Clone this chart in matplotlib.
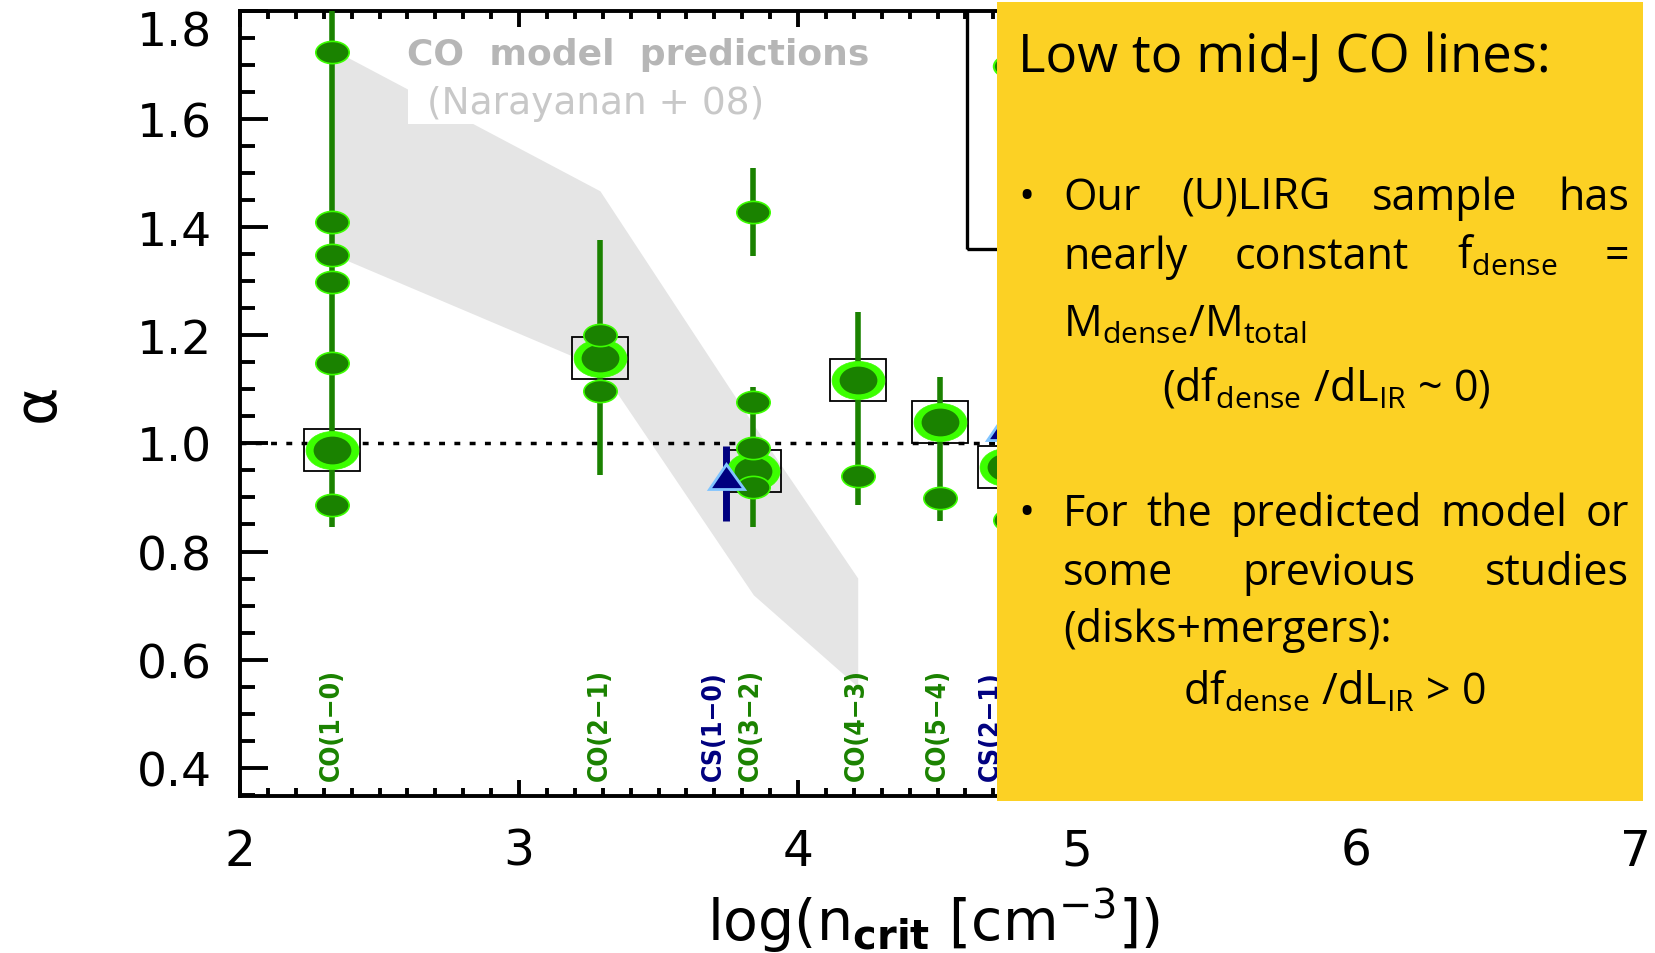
import matplotlib as mpl
import matplotlib.pyplot as plt
import numpy as np
from matplotlib.markers import MarkerStyle
from matplotlib.patches import Rectangle
from matplotlib.transforms import Affine2D
from matplotlib.ticker import MultipleLocator, FormatStrFormatter

mpl.rcParams['mathtext.fontset'] = 'custom'
mpl.rcParams['mathtext.rm'] = 'Open Sans'
mpl.rcParams['mathtext.it'] = 'Open Sans:italic'
mpl.rcParams['mathtext.bf'] = 'Open Sans:bold'

W, H = 1655, 954

# line labels along the bottom (log n_crit)
line_names = ['CO(1−0)', 'CO(2−1)', 'CS(1−0)', 'CO(3−2)', 'CO(4−3)', 'CO(5−4)', 'CS(2−1)']
line_logn = [2.33, 3.29, 3.70, 3.83, 4.21, 4.50, 4.69]
line_is_cs = [False, False, True, False, False, False, True]

# individual CO slopes
gal_x = [2.33, 2.33, 2.33, 2.33, 2.33, 2.33, 3.29, 3.29,
         3.84, 3.84, 3.84, 3.84, 4.215, 4.51, 4.76]
gal_y = [1.723, 1.409, 1.349, 1.298, 1.149, 0.886, 1.201, 1.096,
         1.427, 1.076, 0.992, 0.920, 0.939, 0.899, 0.859]

# error bars of the CO slopes
bar_x = [2.33, 3.29, 3.84, 3.84, 4.215, 4.51]
bar_lo = [0.846, 0.942, 1.346, 0.846, 0.886, 0.856]
bar_hi = [1.85, 1.376, 1.509, 1.105, 1.243, 1.123]

# our (U)LIRG sample (boxed)
mean_x = [2.33, 3.29, 3.84, 4.215, 4.51, 4.745]
mean_y = [0.988, 1.158, 0.948, 1.118, 1.039, 0.957]

# CS lines
cs_x = [3.742, 4.74]
cs_y = [0.939, 1.031]
cs_lo = [0.856, np.nan]
cs_hi = [0.995, np.nan]

# CO model predictions (Narayanan+08)
model_x = [2.33, 3.29, 3.84, 4.214]
model_hi = [1.729, 1.467, 1.035, 0.751]
model_lo = [1.35, 1.14, 0.72, 0.55]

dkgreen = '#1a8200'
ltgreen = '#3cff00'
navy = '#00007f'
yellow = '#fcd124'


def oval(shape, sx):
    return MarkerStyle(shape, transform=Affine2D().scale(sx, 1.0))


def px(x, y):
    return x / W, 1 - y / H


fig = plt.figure(figsize=(W / 100, H / 100), dpi=100)
ax = fig.add_axes([240 / W, 1 - 797 / H, 1395 / W, 785.3 / H])

ax.fill_between(model_x, model_lo, model_hi, color='#e5e5e5', lw=0, zorder=1)
ax.axhline(1.0, color='k', lw=2.5, dashes=(1.7, 2.7), zorder=2)

ax.plot(mean_x, mean_y, ls='none', marker=oval('s', 1.36), ms=30,
        mfc='none', mec='k', mew=1.3, zorder=2.5)
ax.vlines(bar_x, bar_lo, bar_hi, color=dkgreen, lw=4, zorder=3)
ax.vlines(cs_x, cs_lo, cs_hi, color=navy, lw=5, zorder=3)
ax.plot(mean_x, mean_y, ls='none', marker=oval('o', 1.39), ms=27.4,
        mfc=ltgreen, mec=ltgreen, mew=0.5, zorder=4)
ax.plot(mean_x, mean_y, ls='none', marker=oval('o', 1.36), ms=20,
        mfc=dkgreen, mec='none', zorder=5)
ax.plot(gal_x, gal_y, ls='none', marker=oval('o', 1.5), ms=16,
        mfc=dkgreen, mec=ltgreen, mew=1.2, zorder=6)
ax.plot(cs_x, cs_y, ls='none', marker=oval('^', 1.4), ms=18,
        mfc=navy, mec='#80c4ff', mew=2, zorder=6)

for x, name, cs in zip(line_logn, line_names, line_is_cs):
    ax.text(x, 0.377, name, rotation=90, ha='center', va='bottom',
            color=navy if cs else dkgreen, fontsize=19, fontweight='bold',
            fontstretch='condensed', zorder=6)

# model label
ax.add_patch(Rectangle((0.1204, 0.856), 0.053, 0.054, transform=ax.transAxes,
                       fc='white', ec='none', zorder=1.5))
ax.text(0.120, 0.945, 'CO  model  predictions', transform=ax.transAxes,
        color='#b6b6b6', fontsize=26, fontweight='bold', ha='left',
        va='center', zorder=2)
ax.text(0.134, 0.883, '(Narayanan + 08)', transform=ax.transAxes,
        color='#c8c8c8', fontsize=27, ha='left', va='center', zorder=2)

# legend frame (mostly hidden)
ax.add_patch(Rectangle((0.521, 0.697), 0.6, 0.4, transform=ax.transAxes,
                       fc='none', ec='k', lw=2.4, zorder=2, clip_on=True))
ax.plot([0.552], [0.930], transform=ax.transAxes, ls='none',
        marker=oval('o', 1.5), ms=16, mfc=dkgreen, mec=ltgreen, mew=1.5)

ax.set_xlim(2, 7)
ax.set_ylim(0.348, 1.8)
ax.xaxis.set_major_locator(MultipleLocator(1))
ax.xaxis.set_minor_locator(MultipleLocator(0.1))
ax.yaxis.set_major_locator(MultipleLocator(0.2))
ax.yaxis.set_minor_locator(MultipleLocator(0.05))
ax.yaxis.set_major_formatter(FormatStrFormatter('%.1f'))
ax.tick_params(which='both', direction='in', top=True, right=True, width=2.8)
ax.tick_params(axis='x', which='major', length=11.5, labelsize=35, pad=22)
ax.tick_params(axis='x', which='minor', length=5.8)
ax.tick_params(axis='y', which='major', length=20, labelsize=34, pad=20)
ax.tick_params(axis='y', which='minor', length=10.8)
for s in ax.spines.values():
    s.set_linewidth(2.8)
fig.canvas.draw()
for lab in ax.get_yticklabels():
    if lab.get_text() == '1.8':
        lab.set_va('top')

fig.text(*px(934, 921), r'log(n$_{\mathbf{crit}}$ [cm$^{-3}$])', ha='center',
         va='center', fontsize=41, math_fontfamily='dejavusans')
fig.text(*px(37, 403), 'α', rotation=90, ha='center', va='center', fontsize=42)

# yellow summary box
fig.add_artist(Rectangle(px(997, 802), 646 / W, 799 / H, transform=fig.transFigure,
                         fc=yellow, ec='none', zorder=10))
tk = dict(family='Open Sans', fontsize=31, color='k', va='baseline', zorder=11)
fig.text(*px(1018, 72), 'Low to mid-J CO lines:', **dict(tk, fontsize=38))
fig.text(*px(1018, 210), '•', **tk)
fig.text(*px(1018, 526), '•', **tk)

renderer = fig.canvas.get_renderer()


def justify(words, y, x0=1063, x1=1629):
    texts = [fig.text(0, 0, w, **tk) for w in words]
    widths = [t.get_window_extent(renderer).width for t in texts]
    gap = (x1 - x0 - sum(widths)) / (len(words) - 1)
    x = x0
    for t, w in zip(texts, widths):
        t.set_position(px(x, y))
        x += w + gap


justify(['Our', '(U)LIRG', 'sample', 'has'], 210)
justify(['nearly', 'constant', r'f$_{\rm dense}$', '='], 269)
fig.text(*px(1063, 337), r'M$_{\rm dense}$/M$_{\rm total}$', **tk)
fig.text(*px(1162, 401), r'(df$_{\rm dense}$ /dL$_{\rm IR}$ ~ 0)', **tk)
justify(['For', 'the', 'predicted', 'model', 'or'], 526)
justify(['some', 'previous', 'studies'], 585)
fig.text(*px(1063, 642), '(disks+mergers):', **tk)
fig.text(*px(1183, 705), r'df$_{\rm dense}$ /dL$_{\rm IR}$ > 0', **tk)

fig.savefig('out.png', dpi=100)
